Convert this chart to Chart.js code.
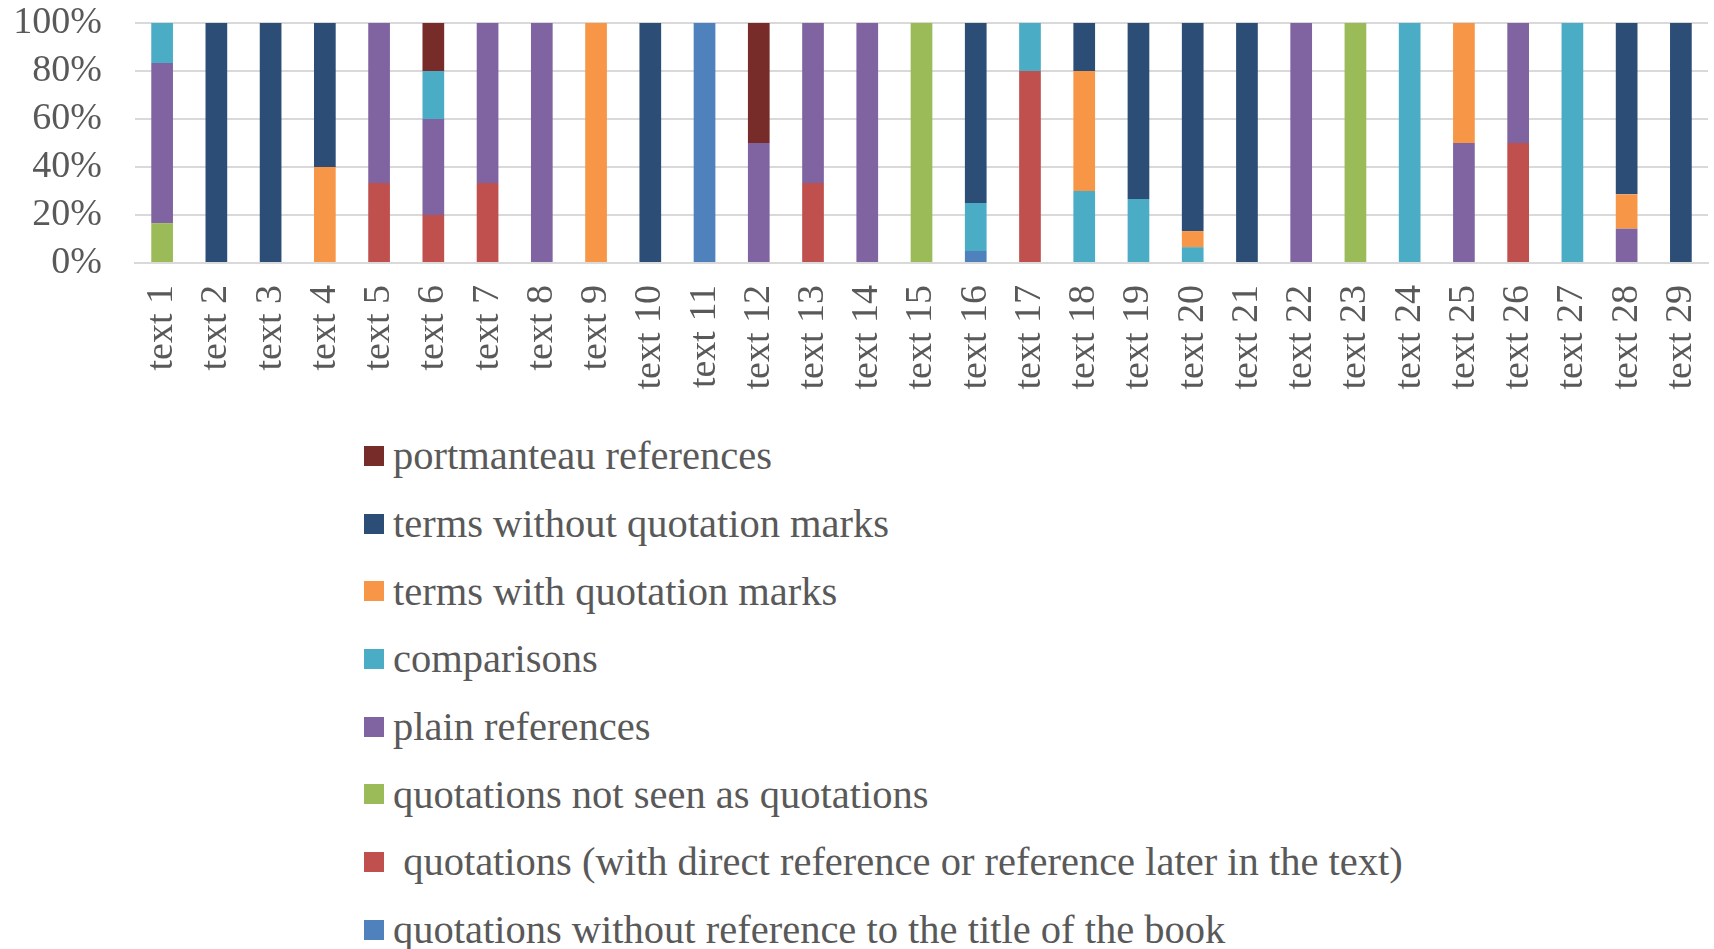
<!DOCTYPE html>
<html>
<head>
<meta charset="utf-8">
<script src="https://cdn.jsdelivr.net/npm/chart.js@4/dist/chart.umd.min.js"></script>
<style>
  html, body { margin: 0; padding: 0; background: #fff; }
  #wrap { position: relative; width: 1714px; height: 949px; overflow: hidden; }
  #box { position: absolute; left: 0; top: 0; width: 1714px; height: 400px; }
  #legend { position: absolute; left: 364px; top: 422px; font-family: "Liberation Serif", serif; font-size: 40.5px; color: #595959; }
  .item { height: 67.7px; display: flex; align-items: center; white-space: pre; }
  .sw { width: 20px; height: 20px; margin-right: 9px; flex: none; }
</style>
</head>
<body>
<div id="wrap">
  <div id="box"><canvas id="chart"></canvas></div>
  <div id="legend"></div>
</div>
<script>
// kategori
const texts = [];
for (let i = 1; i <= 29; i++) texts.push('text ' + i);

const yTicks = [0, 20, 40, 60, 80, 100];

// nilai per seri (persen), urutan tumpukan dari bawah ke atas
const quotNoRef    = [0,0,0,0,0,0,0,0,0,0,100,0,0,0,0,5,0,0,0,0,0,0,0,0,0,0,0,0,0];
const quotDirect   = [0,0,0,0,33.3,20,33.3,0,0,0,0,0,33.3,0,0,0,80,0,0,0,0,0,0,0,0,50,0,0,0];
const quotNotSeen  = [16.6,0,0,0,0,0,0,0,0,0,0,0,0,0,100,0,0,0,0,0,0,0,100,0,0,0,0,0,0];
const plainRefs    = [66.7,0,0,0,66.7,40,66.7,100,0,0,0,50,66.7,100,0,0,0,0,0,0,0,100,0,0,50,50,0,14.3,0];
const comparisons  = [16.7,0,0,0,0,20,0,0,0,0,0,0,0,0,0,20,20,30,26.7,6.6,0,0,0,100,0,0,100,0,0];
const termsWith    = [0,0,0,40,0,0,0,0,100,0,0,0,0,0,0,0,0,50,0,6.7,0,0,0,0,50,0,0,14.3,0];
const termsWithout = [0,100,100,60,0,0,0,0,0,100,0,0,0,0,0,75,0,20,73.3,86.7,100,0,0,0,0,0,0,71.4,100];
const portmanteau  = [0,0,0,0,0,20,0,0,0,0,0,50,0,0,0,0,0,0,0,0,0,0,0,0,0,0,0,0,0];

const seriesNames = [
  'quotations without reference to the title of the book',
  ' quotations (with direct reference or reference later in the text)',
  'quotations not seen as quotations',
  'plain references',
  'comparisons',
  'terms with quotation marks',
  'terms without quotation marks',
  'portmanteau references'
];
const seriesData = [quotNoRef, quotDirect, quotNotSeen, plainRefs, comparisons, termsWith, termsWithout, portmanteau];
const seriesColors = ['#4F81BD', '#C0504D', '#9BBB59', '#8064A2', '#4BACC6', '#F79646', '#2C4D75', '#772C2A'];

const fontFam = '"Liberation Serif", serif';
const textCol = '#595959';

const datasets = seriesNames.map((n, i) => ({
  label: n,
  data: seriesData[i],
  backgroundColor: seriesColors[i],
  borderWidth: 0,
  barPercentage: 0.4,
  categoryPercentage: 1
}));

const ctx = document.getElementById('chart').getContext('2d');
const chart = new Chart(ctx, {
  type: 'bar',
  data: { labels: texts, datasets: datasets },
  options: {
    responsive: true,
    maintainAspectRatio: false,
    animation: false,
    layout: { padding: { top: 23, right: 6, bottom: 0, left: 0 } },
    plugins: { legend: { display: false }, tooltip: { enabled: false } },
    scales: {
      x: {
        stacked: true,
        grid: { display: false, drawTicks: false },
        border: { color: '#D9D9D9', width: 2 },
        ticks: { color: textCol, font: { family: fontFam, size: 38 }, minRotation: 90, maxRotation: 90, padding: 22, autoSkip: false },
        afterFit: s => { s.height = 137; s.paddingLeft = 0; s.paddingRight = 0; }
      },
      y: {
        stacked: true,
        min: 0,
        max: 100,
        afterBuildTicks: s => { s.ticks = yTicks.map(v => ({ value: v })); },
        grid: { color: '#D9D9D9', lineWidth: 2, drawTicks: false },
        border: { display: false },
        ticks: { color: textCol, font: { family: fontFam, size: 38 }, padding: 33, autoSkip: false, callback: v => v + '%' },
        afterFit: s => { s.width = 135; s.paddingTop = 0; s.paddingBottom = 0; }
      }
    }
  }
});

// legenda manual, urutan terbalik seperti Excel
const leg = document.getElementById('legend');
for (let i = seriesNames.length - 1; i >= 0; i--) {
  const row = document.createElement('div');
  row.className = 'item';
  row.innerHTML = '<span class="sw" style="background:' + seriesColors[i] + '"></span><span></span>';
  row.lastChild.textContent = seriesNames[i];
  leg.appendChild(row);
}
</script>
</body>
</html>
